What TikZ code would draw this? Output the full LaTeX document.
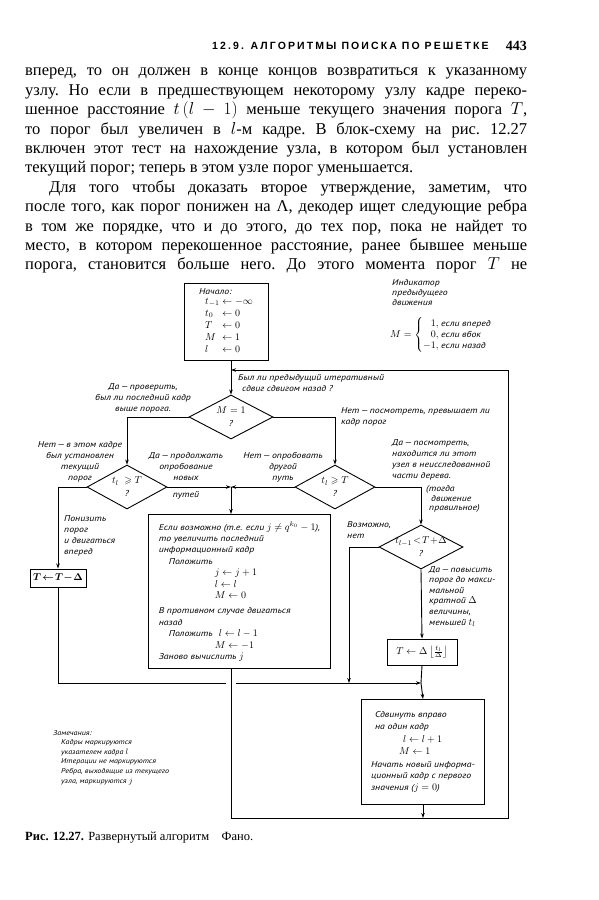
\documentclass[tikz,border=0pt]{standalone}
\usepackage{fontspec}
\usepackage{amssymb,amsmath}
\setmainfont{Liberation Serif}
\newfontfamily\hand{PT Sans}[UprightFont={* Italic}, FakeStretch=1.15]
\newfontfamily\headfont{Liberation Sans}[LetterSpace=20]
\DeclareMathSizes{8.5}{9.8}{7}{5.5}
\DeclareMathSizes{7}{8.2}{6}{5}
\usepackage{tikz}
\usetikzlibrary{shapes.geometric, arrows.meta, positioning, calc}

\newcommand\bline[1]{\hbox to 502pt{#1}}

\begin{document}
\begin{tikzpicture}[x=1pt, y=-1pt,
  lbl/.style={font=\hand\fontsize{8.5}{11}\selectfont, inner sep=0pt, align=left},
  blk/.style={draw, line width=1pt, font=\hand\fontsize{8.5}{11.4}\selectfont, align=left},
  dec/.style={draw, diamond, line width=0.9pt, minimum width=84pt, minimum height=44pt, inner sep=0pt},
  dlbl/.style={font=\hand\fontsize{8.5}{13}\selectfont, inner sep=0pt, align=center},
  line/.style={line width=0.9pt},
  arrow/.style={line, -{Stealth[length=5pt, width=3.5pt]}},
]
\useasboundingbox (0,0) rectangle (599,900);

%% Page head and text
\node[anchor=west, inner sep=0pt, font=\headfont\bfseries\fontsize{10.5}{12}\selectfont] (head) at (212,46) {12.9. АЛГОРИТМЫ ПОИСКА ПО РЕШЕТКЕ};
\node[anchor=east, inner sep=0pt, font=\bfseries\fontsize{14}{16}\selectfont] (page) at (527,46) {443};

\node[anchor=north west, inner sep=0pt] (body) at (25,68) {\fontsize{16.5}{19.4}\selectfont\frenchspacing\vbox{%
\bline{вперед, то он должен в конце концов возвратиться к указанному}
\bline{узлу. Но если в предшествующем некоторому узлу кадре переко-}
\bline{шенное расстояние $t\,(l-1)$ меньше текущего значения порога $T$,}
\bline{то порог был увеличен в $l$-м кадре. В блок-схему на рис. 12.27}
\bline{включен этот тест на нахождение узла, в котором был установлен}
\hbox{текущий порог; теперь в этом узле порог уменьшается.}
\bline{\hspace*{24pt}Для того чтобы доказать второе утверждение, заметим, что}
\bline{после того, как порог понижен на Λ, декодер ищет следующие ребра}
\bline{в том же порядке, что и до этого, до тех пор, пока не найдет то}
\bline{место, в котором перекошенное расстояние, ранее бывшее меньше}
\bline{порога, становится больше него. До этого момента порог $T$ не}}};

%% Indicator of the previous move
\node[lbl, anchor=north west, font=\hand\fontsize{8.5}{10}\selectfont] (ind) at (392,279) {Индикатор\\предыдущего\\движения};
\node[lbl] (mdef) at (441,335) {$M=\left\{\begin{array}{@{}r@{,\ }l@{}}1&\text{если вперед}\\0&\text{если вбок}\\-1&\text{если назад}\end{array}\right.$};

%% Start and first test
\node[blk, minimum width=84pt, minimum height=77pt, inner sep=3pt] (start) at (226,322) {Начало:\\[1pt]
\hspace*{6pt}$\renewcommand{\arraystretch}{1.05}\begin{array}{@{}l@{\;\leftarrow\;}l@{}}t_{-1}&-\infty\\t_0&0\\T&0\\M&1\\l&0\end{array}$};
\node[dec] (m1) at (231,417) {};
\node[dlbl] (m1t) at (m1) {$M=1$\\?};
\coordinate (topin) at (231,370);
\node[lbl, anchor=north west] (was) at (238,374) {Был ли предыдущий итеративный\\\hspace*{4pt}сдвиг сдвигом назад ?};
\node[lbl, align=center] (yes1) at (143,398) {Да\,—\,проверить,\\был ли последний кадр\\выше порога.};
\node[lbl, anchor=north west] (no1) at (341,407) {Нет\,—\,посмотреть, превышает ли\\кадр порог};

%% Second level tests
\node[dec, minimum width=80pt] (d1) at (127,487) {};
\node[dlbl] (d1t) at (d1) {$t_l\;\geqslant T$\\?};
\node[dec, minimum width=80pt] (d2) at (335,487) {};
\node[dlbl] (d2t) at (d2) {$t_l\geqslant T$\\?};
\coordinate (j1) at (231,487);
\node[lbl, align=center] (noset) at (80,462) {Нет\,—\,в этом кадре\\был установлен\\текущий\\порог};
\node[lbl, align=center] (cont) at (186,467) {Да\,—\,продолжать\\опробование\\новых};
\node[lbl] (paths) at (186,495) {путей};
\node[lbl, align=center] (other) at (283,467) {Нет\,—\,опробовать\\другой\\путь};
\node[lbl, anchor=north west] (lower) at (64,515) {Понизить\\порог\\и двигаться\\вперед};
\node[lbl, anchor=north west] (look) at (392,439) {Да\,—\,посмотреть,\\находится ли этот\\узел в неисследованной\\части дерева.};
\node[lbl, anchor=north west, font=\hand\fontsize{8.5}{9.8}\selectfont] (look2) at (426,485) {(тогда\\\hspace*{5pt}движение\\\hspace*{3pt}правильное)};

%% Boxes
\node[blk, font=\fontsize{10}{12}\selectfont, minimum width=56pt, minimum height=18pt, inner sep=1pt] (tt) at (58,578) {$\boldsymbol{T\!\leftarrow\!T\!-\!\Delta}$};
\node[blk, anchor=north west, minimum width=182pt, minimum height=154pt, inner sep=3pt] (esli) at (148,514) {Если возможно (т.е. если $j\neq q^{k_0}-1$),\\
то увеличить последний\\
информационный кадр\\
\hspace*{10pt}Положить\\
\hspace*{56pt}$j\leftarrow j+1$\\
\hspace*{56pt}$l\leftarrow l$\\
\hspace*{56pt}$M\leftarrow 0$\\[4pt]
В противном случае двигаться\\
назад\\
\hspace*{10pt}Положить\hspace*{6pt}$l\leftarrow l-1$\\
\hspace*{56pt}$M\leftarrow -1$\\
Заново вычислить $j$};

%% Third test and right branch
\node[dec] (d3) at (421,547) {};
\node[dlbl] (d3t) at (d3) {$t_{l-1}\!<\!T\!+\!\Delta$\\?};
\node[lbl, anchor=north west] (maybe) at (347,521) {Возможно,\\нет};
\node[lbl, anchor=north west, font=\hand\fontsize{8.5}{10.6}\selectfont] (raise) at (429,566) {Да\,—\,повысить\\порог до макси-\\мальной\\кратной $\Delta$\\величины,\\меньшей $t_l$};
\node[blk, minimum width=70pt, minimum height=26pt, inner sep=1pt, font=\fontsize{10}{12}\selectfont] (tdl) at (422,652) {$T\leftarrow\Delta\left\lfloor\frac{t_l}{\Delta}\right\rfloor$};
\coordinate (j2) at (421,683);
\coordinate (j3) at (349,683);
\node[blk, anchor=north west, minimum width=123pt, minimum height=105pt, inner sep=3pt] (sdv) at (361,699) {\hspace*{4pt}Сдвинуть вправо\\
\hspace*{4pt}на один кадр\\[2pt]
\hspace*{32pt}$l\leftarrow l+1$\\
\hspace*{28pt}$M\leftarrow 1$\\[2pt]
Начать новый информа-\\
ционный кадр с первого\\
значения ($j=0$)};

%% Loop corners and crossing
\coordinate (botR) at (508,818);
\coordinate (gapL) at (226,683);
\coordinate (gapR) at (236,683);

%% Connectors
\draw[arrow] (start.south -| m1.north) -- (m1.north);
\draw[arrow] (m1.west) -| (d1.north);
\draw[arrow] (m1.east) -| (d2.north);
\draw[arrow] (d1.east) -- (j1);
\draw[arrow] (d2.west) -- (j1);
\draw[arrow] (j1) -- (j1 |- esli.north);
\draw[arrow] (d1.west) -| (tt.north);
\draw[line] (tt.south) |- (gapL);
\draw[arrow] (gapR) -- (j2);
\draw[arrow] (d2.east) -| (d3.north);
\draw[arrow] (d3.west) -| (j3);
\draw[arrow] (d3.south) -- (tdl.north);
\draw[line] (tdl.south) -- (j2);
\draw[arrow] (j2) -- (sdv.north);
\draw[arrow] (sdv.south) -- (sdv.south |- botR);
\draw[arrow] (esli.south -| j1) |- (botR) |- (topin);

%% Notes
\node[lbl, anchor=north west, font=\hand\fontsize{7}{9.6}\selectfont] (notes) at (53,730) {Замечания:\\
\hspace*{8pt}Кадры маркируются\\
\hspace*{8pt}указателем кадра $l$\\
\hspace*{8pt}Итерации не маркируются\\
\hspace*{8pt}Ребра, выходящие из текущего\\
\hspace*{8pt}узла, маркируются $j$};

%% Caption
\node[anchor=west, inner sep=0pt, font=\fontsize{12.5}{15}\selectfont] (cap) at (25,838) {\textbf{Рис. 12.27.} Развернутый алгоритм\quad Фано.};
\end{tikzpicture}
\end{document}
